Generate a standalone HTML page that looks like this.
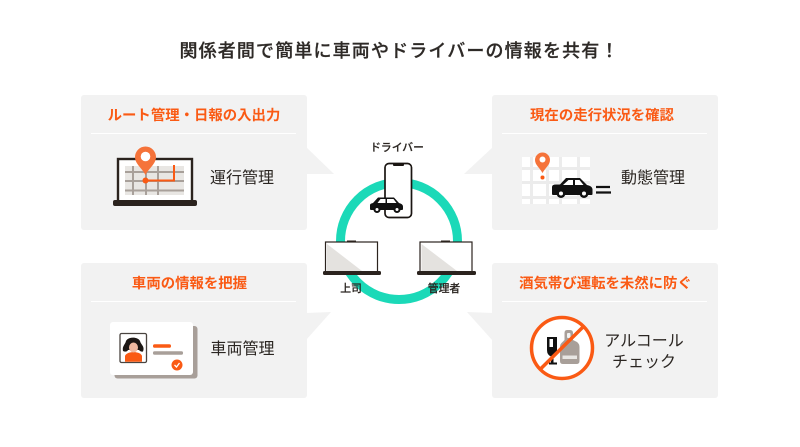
<!DOCTYPE html>
<html lang="ja"><head><meta charset="utf-8"><style>
html,body{margin:0;padding:0;background:#fff;width:800px;height:447px;overflow:hidden}
svg{display:block}
text{font-family:"Liberation Sans","Noto Sans CJK JP",sans-serif}
.t{font-size:14.4px;font-weight:700;fill:#fa5a14;text-anchor:middle}
.l{font-size:16px;fill:#2b2622;text-anchor:middle;font-weight:400}
.s{font-size:10.8px;fill:#2b2622;text-anchor:middle;font-weight:500;stroke:#2b2622;stroke-width:.2}
</style></head><body>
<svg width="800" height="447" viewBox="0 0 800 447" xmlns="http://www.w3.org/2000/svg">
<rect width="800" height="447" fill="#fff"/>
<text x="399.500" y="57" text-anchor="middle" font-size="18" font-weight="500" fill="#2e2a27" stroke="#2e2a27" stroke-width=".25" letter-spacing="1.15">関係者間で簡単に車両やドライバーの情報を共有！</text>

<!-- panels -->
<g fill="#f2f2f2">
<rect x="81" y="95" width="226" height="135" rx="3"/><path d="M306 147L334 174H306Z"/>
<rect x="492" y="95" width="226" height="135" rx="3"/><path d="M493 147L464 174H493Z"/>
<rect x="81" y="263" width="226" height="135" rx="3"/><path d="M306 313L331 312L306 340Z"/>
<rect x="492" y="263" width="226" height="135" rx="3"/><path d="M493 313L467 312L493 341Z"/>
</g>
<g stroke="#fff" stroke-width="1"><path d="M91 133.500H296M502 133.500H707M91 301.500H296M502 301.500H707"/></g>

<text class="t" x="194" y="120">ルート管理・日報の入出力</text>
<text class="t" x="602" y="120">現在の走行状況を確認</text>
<text class="t" x="189.500" y="288">車両の情報を把握</text>
<text class="t" x="605.500" y="288">酒気帯び運転を未然に防ぐ</text>

<text class="l" x="242" y="183">運行管理</text>
<text class="l" x="653" y="183">動態管理</text>
<text class="l" x="242.500" y="354">車両管理</text>
<text class="l" x="644" y="346">アルコール</text>
<text class="l" x="644" y="367">チェック</text>

<!-- panel 1 laptop -->
<rect x="118" y="159" width="74" height="43" fill="#fff" stroke="#2b231e" stroke-width="2.400"/>
<rect x="125" y="166" width="59" height="29" fill="#e8e6e3"/>
<g stroke="#a8a09a" stroke-width="2" fill="none"><path d="M125 172H184M125 181H184M125 190.500H184M133 166V195M146 166V195M158 166V195"/></g>
<rect x="113" y="200" width="84" height="6" rx="2" fill="#2b231e"/>
<path d="M174 165V180.500H146" fill="none" stroke="#fa5a14" stroke-width="2"/>
<circle cx="145.500" cy="180.500" r="3" fill="#fa5a14"/>
<path d="M145.500 175C142 168 135 164 135 157A10.500 10.500 0 0 1 156 157C156 164 149 168 145.500 175Z" fill="#f5733a"/>
<circle cx="145.500" cy="156.500" r="4.800" fill="#fff"/>

<!-- panel 2 map/car -->
<rect x="522" y="157" width="68" height="47" fill="#fff"/>
<g fill="#ececec"><path d="M522 167h68v3h-68zM522 181h68v3h-68zM522 196h68v3h-68zM530 157h3v47h-3zM546 157h3v47h-3zM559 157h3v47h-3zM577 157h3v47h-3z"/></g>
<path d="M542.500 173C540 168 535 165 535 160A7.500 7.500 0 0 1 550 160C550 165 545 168 542.500 173Z" fill="#f5733a"/>
<circle cx="542.500" cy="159.500" r="3" fill="#fff"/>
<circle cx="542.500" cy="177.500" r="2" fill="#fa5a14"/>
<path d="M552 194V187Q552 184.500 556 184.500H560L566 178H580L587 185Q592 186 592.500 189V194Q592.500 195 591 195H553Q552 195 552 194Z" fill="#111"/>
<path d="M568.500 180H573V185H563ZM575 180H579.500L583.500 185H575Z" fill="#fff"/>
<circle cx="561" cy="193.500" r="4.500" fill="#111"/><circle cx="561" cy="193.500" r="2" fill="#fff"/>
<circle cx="584" cy="193.500" r="4.500" fill="#111"/><circle cx="584" cy="193.500" r="2" fill="#fff"/>
<path d="M596 187H610M596 192.500H611" stroke="#111" stroke-width="2.200"/>

<!-- panel 3 card -->
<rect x="114.500" y="326" width="83" height="52.500" rx="3" fill="#a89f99"/>
<rect x="110" y="322" width="83" height="53" rx="3" fill="#fff"/>
<rect x="120" y="333.500" width="26.500" height="29" rx="1.500" fill="#fff" stroke="#4a4440" stroke-width="1.300"/>
<path d="M125 361.800V356Q126 352.500 133.500 352Q141 352.500 142 356V361.800Z" fill="#fa5a14"/>
<path d="M123 351C122 346 125 345 126 341C128 336.500 138 336.500 140 341C141 345 145 346 143 351.500C141 352 140 351 139 350L128 350C127 352 125 352 123 351Z" fill="#1c1714"/>
<ellipse cx="133.500" cy="347.500" rx="4.500" ry="5" fill="#f0b9a0"/>
<rect x="153" y="344.300" width="18" height="3.500" rx="1.700" fill="#fa5a14"/>
<rect x="153" y="351.300" width="30" height="3.500" rx="1.500" fill="#a89f99"/>
<circle cx="177" cy="365" r="5.500" fill="#fa5a14"/>
<path d="M174.500 365L176.500 367L179.500 363" fill="none" stroke="#fff" stroke-width="1.300"/>

<!-- panel 4 no alcohol -->
<circle cx="562" cy="348" r="31" fill="#fff"/>
<path d="M547 337H557V350Q557 355 553.500 356.500V362.500H557V364.500H549V362.500H551V356.500Q547 355 547 350Z" fill="#111"/>
<rect x="549.500" y="339" width="3.500" height="8" fill="#fff"/>
<path d="M567 330H570Q573 330 573 333V340L577 342Q579.500 344 579.500 347V361Q579.500 364 576.500 364H563Q560 364 560 361V347Q560 344 562.500 342L564.500 340V333Q564.500 330 567 330Z" fill="#a89f99"/>
<rect x="567" y="333" width="3.500" height="5" rx="1" fill="#f2f2f2"/>
<rect x="562.500" y="355.500" width="14.500" height="3.500" fill="#e8e6e3"/>
<circle cx="562" cy="348" r="30.500" fill="none" stroke="#fa5a14" stroke-width="3.500"/>
<path d="M540.500 369L583.500 326.500" stroke="#fa5a14" stroke-width="3.500"/>

<!-- ring -->
<circle cx="399" cy="241" r="58.500" fill="none" stroke="#1bd9b8" stroke-width="9"/>

<!-- phone -->
<rect x="385" y="163.500" width="26.500" height="54" rx="4" fill="#fff" stroke="#1a1512" stroke-width="1.700"/>
<rect x="393" y="163.500" width="11" height="2.500" rx="1" fill="#1a1512"/>
<path d="M370 209V205Q370 203.500 373 203L378 197.500H394L399 203Q403 204 403 206.500V209Q403 210 402 210H371Q370 210 370 209Z" fill="#111"/>
<path d="M380.500 199H385.500V203H377.500ZM387 199H393.500L396.500 203H387Z" fill="#fff"/>
<circle cx="377" cy="209.500" r="3.500" fill="#111"/><circle cx="377" cy="209.500" r="1.500" fill="#fff"/>
<circle cx="397" cy="209.500" r="3.500" fill="#111"/><circle cx="397" cy="209.500" r="1.500" fill="#fff"/>
<text class="s" x="397" y="151">ドライバー</text>

<!-- laptops -->
<g>
<rect x="325.500" y="242" width="52" height="30" fill="#fff" stroke="#2b231e" stroke-width="1.200"/>
<path d="M327 244V271H362Z" fill="#e4e2df"/>
<rect x="347" y="240.500" width="9" height="1.500" fill="#2b231e"/>
<rect x="323" y="271" width="58" height="4" rx="1.500" fill="#2b231e"/>
</g>
<g>
<rect x="420" y="242" width="52" height="30" fill="#fff" stroke="#2b231e" stroke-width="1.200"/>
<path d="M421.500 244V271H457Z" fill="#e4e2df"/>
<rect x="441" y="240.500" width="9" height="1.500" fill="#2b231e"/>
<rect x="417" y="271" width="59" height="4" rx="1.500" fill="#2b231e"/>
</g>
<text class="s" x="351" y="292">上司</text>
<text class="s" x="444" y="292">管理者</text>
</svg>
</body></html>
